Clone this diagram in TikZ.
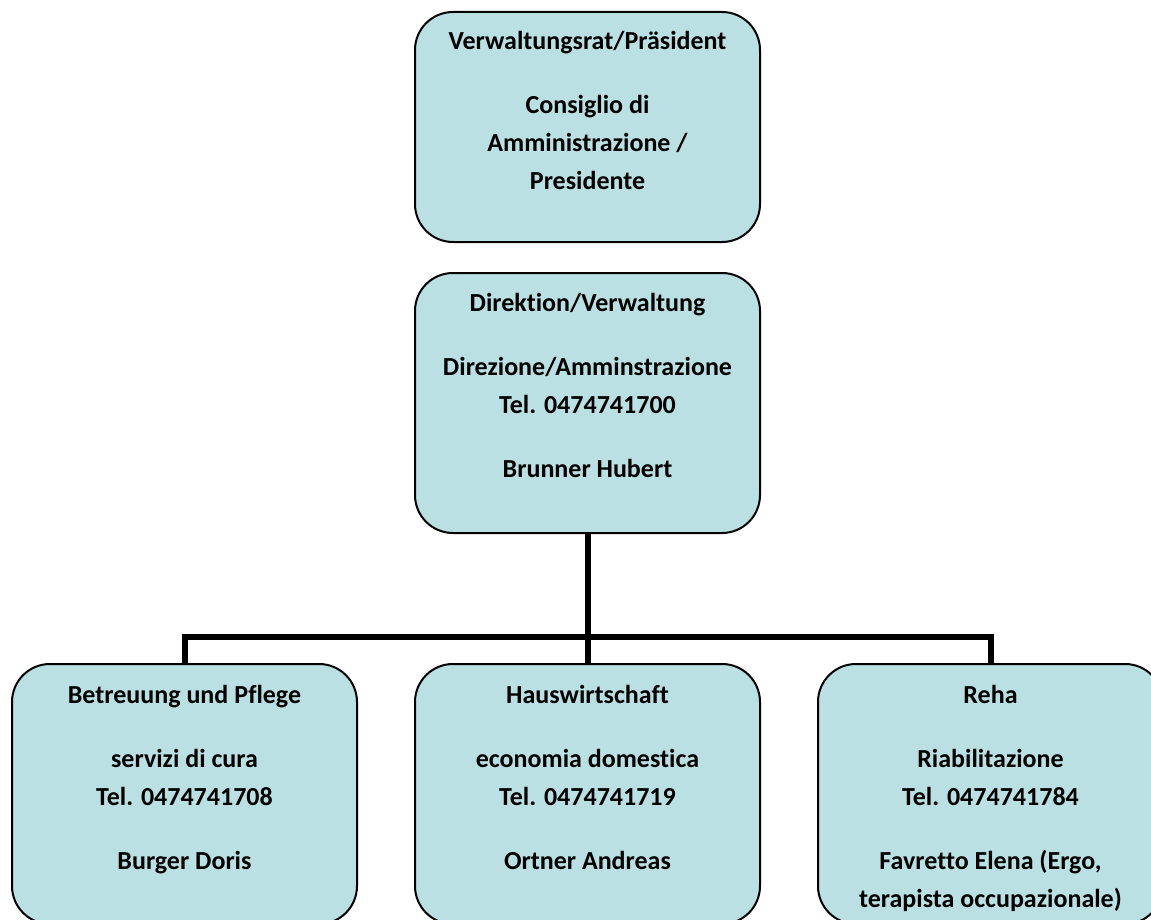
\documentclass[tikz,border=0pt]{standalone}
\usepackage{fontspec}
\setmainfont{Carlito}[Ligatures=NoCommon]
\definecolor{boxfill}{HTML}{BBE0E3}
\begin{document}
\begin{tikzpicture}[x=1pt,y=-1pt,
  orgbox/.style={draw=black, line width=2pt, fill=boxfill, rounded corners=38pt, minimum width=345pt, inner sep=0pt},
  boxtext/.style={font=\bfseries\fontsize{26}{38}\selectfont, align=center, anchor=base, inner sep=0pt},
  conn/.style={draw=black, line width=6pt}]
\useasboundingbox (0,0) rectangle (1151,920);
\clip (0,0) rectangle (1151,920);
% boxes
\node[orgbox, minimum height=230pt] (top) at (587.5,127) {};
\node[orgbox, minimum height=260pt] (dir) at (587.5,403) {};
\node[orgbox, minimum height=260pt] (b1) at (184.5,794) {};
\node[orgbox, minimum height=260pt] (b2) at (587.5,794) {};
\node[orgbox, minimum height=260pt] (b3) at (990.5,794) {};
% connectors
\coordinate (bus) at (587.5,637);
\draw[conn] (dir.south) -- (bus);
\draw[conn] (b1.north) |- (bus) -| (b3.north);
\draw[conn] (bus) -- (b2.north);
% texts (anchor base = baseline of the last line)
\node[boxtext] (topT) at (587.5,189.5) {Verwaltungsrat/Präsident\\[26pt] Consiglio di\\ Amministrazione /\\ Presidente};
\node[boxtext] (dirT) at (587.5,477.5) {Direktion/Verwaltung\\[26pt] Direzione/Amminstrazione\\ Tel. 0474741700\\[26pt] Brunner Hubert};
\node[boxtext] (b1T) at (184.5,869.5) {Betreuung und Pflege\\[26pt] servizi di cura\\ Tel. 0474741708\\[26pt] Burger Doris};
\node[boxtext] (b2T) at (587.5,869.5) {Hauswirtschaft\\[26pt] economia domestica\\ Tel. 0474741719\\[26pt] Ortner Andreas};
\node[boxtext] (b3T) at (990.5,907.5) {Reha\\[26pt] Riabilitazione\\ Tel. 0474741784\\[26pt] Favretto Elena (Ergo,\\ terapista occupazionale)};
\end{tikzpicture}
\end{document}
